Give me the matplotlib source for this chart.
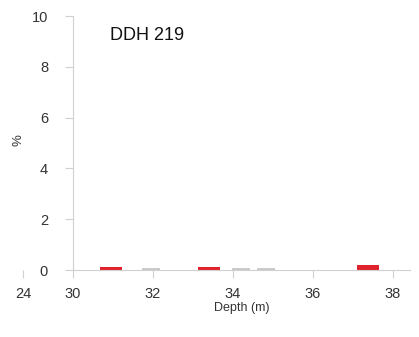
import numpy as np
import matplotlib.pyplot as plt

plt.rcParams['font.family'] = ['Liberation Sans', 'DejaVu Sans']

# data
red_depth = [30.95, 33.4, 37.38]
red_pct = [0.11, 0.11, 0.2]
grey_depth = [31.95, 34.2, 34.83]
grey_pct = [0.08, 0.08, 0.08]
xticks = [30, 32, 34, 36, 38]
yticks = [0, 2, 4, 6, 8, 10]

txt = "#333333"
line = "#d0d0d0"

fig = plt.figure(figsize=(4.19, 3.37), dpi=100)
ax = fig.add_axes([73/419, 67/337, (410-73)/419, (270-16)/337])

ax.bar(red_depth, red_pct, width=0.55, color="#dc0a14", alpha=0.9)
ax.bar(grey_depth, grey_pct, width=0.45, color="#a8a8a8", alpha=0.6)

ax.set_xlim(30, 30 + (410-73)/40)
ax.set_ylim(0, 10)
ax.set_xticks(xticks)
ax.set_yticks(yticks)
for s in ["top", "right"]:
    ax.spines[s].set_visible(False)
for s in ["left", "bottom"]:
    ax.spines[s].set_color(line)
    ax.spines[s].set_linewidth(0.8)
ax.tick_params(axis="both", colors=line, labelcolor=txt, labelsize=10.5, length=6, width=0.8, pad=12)
ax.tick_params(axis="x", pad=6)
ax.set_xlabel("Depth (m)", fontsize=9, color=txt, labelpad=1)
ax.set_ylabel("%", fontsize=9.5, color=txt)
ax.yaxis.set_label_coords(-48/337, 0.51)
ax.text(110/419, 1 - 35/337, "DDH 219", transform=fig.transFigure, fontsize=13, color="#111111", va="center", ha="left")

# left piece of the broken depth axis
ax2 = fig.add_axes([13/419, 67/337, 20/419, 0.001])
ax2.set_xlim(23.75, 24.25)
ax2.set_xticks([24])
ax2.set_yticks([])
for s in ax2.spines.values():
    s.set_visible(False)
ax2.tick_params(axis="x", colors=line, labelcolor=txt, labelsize=10.5, length=6, width=0.8, pad=6)
ax2.patch.set_alpha(0)

fig.savefig("out.png", dpi=100)
